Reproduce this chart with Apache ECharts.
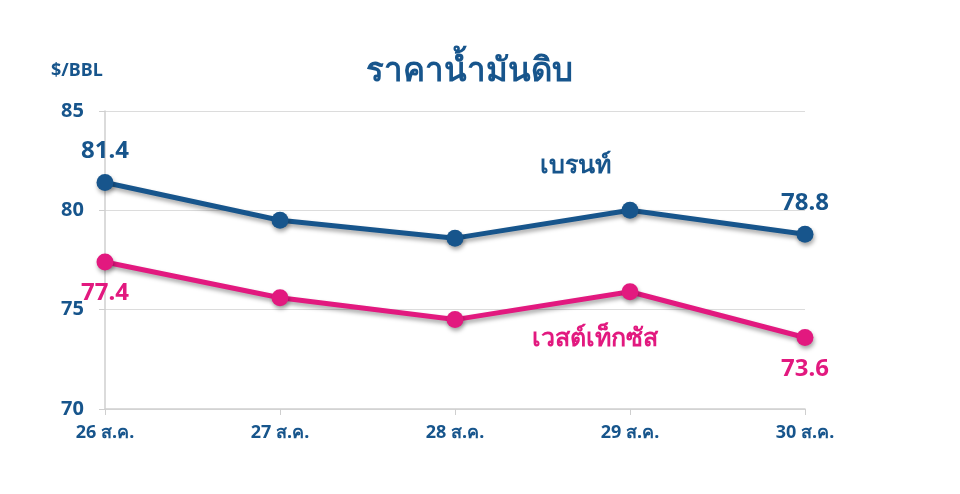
<!DOCTYPE html>
<html><head><meta charset="utf-8">
<script src="https://cdn.jsdelivr.net/npm/echarts@6/dist/echarts.min.js"></script>
<style>html,body{margin:0;padding:0;background:#fff}#c{width:960px;height:494px}</style>
</head><body><div id="c"></div>
<script>
var categories = ['26 ส.ค.', '27 ส.ค.', '28 ส.ค.', '29 ส.ค.', '30 ส.ค.'];
var brent = [81.4, 79.5, 78.6, 80.0, 78.8];
var wti = [77.4, 75.6, 74.5, 75.9, 73.6];
var yTicks = [70, 75, 80, 85];
var brentName = 'เบรนท์';
var wtiName = 'เวสต์เท็กซัส';

var BLUE = '#17558c', PINK = '#e2197f';
var FONT = '"Noto Sans", "Open Sans", sans-serif';

function withEndLabels(arr, color, pos) {
  return arr.map(function (v, i) {
    var o = { value: v };
    if (i === 0 || i === arr.length - 1) {
      o.label = { show: true, position: pos, distance: 11, color: color, fontSize: 24, fontWeight: 'bold', fontFamily: FONT };
    }
    return o;
  });
}

var chart = echarts.init(document.getElementById('c'));
chart.setOption({
  animation: false,
  title: { text: 'ราคาน้ำมันดิบ', left: 464, top: 50, textAlign: 'center',
    textStyle: { color: BLUE, fontSize: 33, fontWeight: 'bold', fontFamily: FONT } },
  grid: { left: 105, right: 155, top: 111, bottom: 85 },
  graphic: [
    { type: 'text', left: 51, top: 62, style: { text: '$/BBL', fill: BLUE, font: 'bold 18px ' + FONT } },
    { type: 'text', left: 540, top: 153, style: { text: brentName, fill: BLUE, font: 'bold 25px ' + FONT } },
    { type: 'text', left: 532, top: 326, style: { text: wtiName, fill: PINK, font: 'bold 25px ' + FONT } }
  ],
  xAxis: {
    type: 'category', data: categories, boundaryGap: false,
    axisLine: { lineStyle: { color: '#cfcfcf', width: 1.5 } },
    axisTick: { show: true, alignWithLabel: true, length: 6, lineStyle: { color: '#cfcfcf' } },
    axisLabel: { color: BLUE, fontSize: 18, fontWeight: 'bold', fontFamily: FONT, margin: 15 }
  },
  yAxis: {
    type: 'value', min: yTicks[0], max: yTicks[yTicks.length - 1], interval: 5,
    axisLine: { show: true, lineStyle: { color: '#cfcfcf', width: 1.5 } },
    axisTick: { show: true, length: 6, lineStyle: { color: '#cfcfcf' } },
    splitLine: { lineStyle: { color: '#dcdcdc', width: 1 } },
    axisLabel: { color: BLUE, fontSize: 20, fontWeight: 'bold', fontFamily: FONT, margin: 21 }
  },
  series: [
    { type: 'line', name: brentName, data: withEndLabels(brent, BLUE, 'top'),
      symbol: 'circle', symbolSize: 17,
      lineStyle: { color: BLUE, width: 5, shadowColor: 'rgba(0,0,0,0.35)', shadowBlur: 4, shadowOffsetY: 3, shadowOffsetX: 1 },
      itemStyle: { color: BLUE, shadowColor: 'rgba(0,0,0,0.35)', shadowBlur: 4, shadowOffsetY: 3, shadowOffsetX: 1 } },
    { type: 'line', name: wtiName, data: withEndLabels(wti, PINK, 'bottom'),
      symbol: 'circle', symbolSize: 17,
      lineStyle: { color: PINK, width: 5, shadowColor: 'rgba(0,0,0,0.35)', shadowBlur: 4, shadowOffsetY: 3, shadowOffsetX: 1 },
      itemStyle: { color: PINK, shadowColor: 'rgba(0,0,0,0.35)', shadowBlur: 4, shadowOffsetY: 3, shadowOffsetX: 1 } }
  ]
});
</script></body></html>
